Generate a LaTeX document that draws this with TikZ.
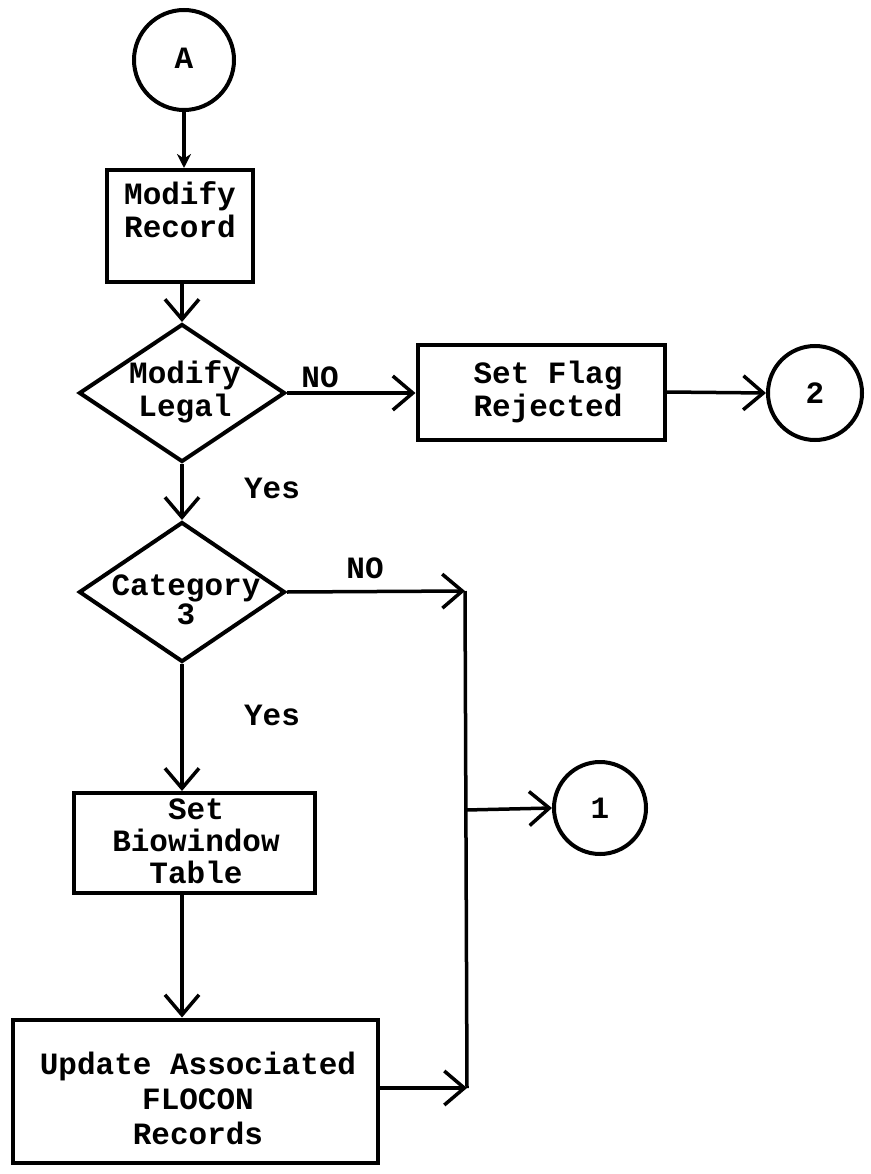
\documentclass[tikz,border=0pt]{standalone}
\usepackage{fontspec}
\setmonofont{Liberation Mono}
\usetikzlibrary{arrows.meta,shapes.geometric}
\begin{document}
\begin{tikzpicture}[x=1pt,y=-1pt,
  txt/.style={font=\ttfamily\bfseries\fontsize{31}{33}\selectfont, align=center, inner sep=0pt},
  stepbox/.style={draw, line width=4pt, rectangle, inner sep=0pt},
  dia/.style={draw, line width=4pt, diamond, inner sep=0pt, minimum width=206pt, minimum height=138pt},
  conn/.style={draw, line width=4pt, circle, inner sep=0pt, minimum size=94pt},
  flow/.style={line width=3.5pt, -{Straight Barb[length=20pt,width=34pt,line width=3.5pt]}},
  small/.style={line width=3.5pt, -{Stealth[length=14pt,width=14pt]}},
  plain/.style={line width=3.5pt}]
\useasboundingbox (0,0) rectangle (870,1174);

% nodes
\node[conn, minimum size=100pt] (A) at (184,60) {};
\node[txt] (Atxt) at (184,58) {A};

\node[stepbox, minimum width=146pt, minimum height=112pt] (mr) at (180,226) {};
\node[txt] (mrt) at (180,210) {Modify\\Record};

\node[dia] (ml) at (182,393) {};
\node[txt] (mlt) at (185,392) {Modify\\Legal};
\node[txt] (no1) at (320,377) {NO};

\node[stepbox, minimum width=247pt, minimum height=95pt] (sf) at (541,392) {};
\node[txt] (sft) at (548,392) {Set Flag\\Rejected};

\node[conn] (c2) at (815,393) {};
\node[txt] (c2t) at (815,393) {2};

\node[txt] (yes1) at (272,488) {Yes};

\node[dia, minimum height=140pt] (cat) at (182,592) {};
\node[txt, font=\ttfamily\bfseries\fontsize{31}{29}\selectfont] (catt) at (186,600) {Category\\3};
\node[txt] (no2) at (365,568) {NO};

\node[txt] (yes2) at (272,715) {Yes};

\node[stepbox, minimum width=241pt, minimum height=100pt] (sb) at (194,843) {};
\node[txt, font=\ttfamily\bfseries\fontsize{31}{32}\selectfont] (sbt) at (196,841) {Set\\Biowindow\\Table};

\node[stepbox, minimum width=365pt, minimum height=143pt] (up) at (195,1091) {};
\node[txt, font=\ttfamily\bfseries\fontsize{31}{35}\selectfont] (upt) at (198,1098) {Update Associated\\FLOCON\\Records};

\node[conn, minimum size=92pt] (c1) at (600,808) {};
\node[txt] (c1t) at (600,808) {1};

\coordinate (j1) at (465,591);
\coordinate (j3) at (466,810);
\coordinate (j2) at (467,1088);

% connectors
\draw[small] (A.south) -- (A.south |- mr.north);
\draw[flow] (mr.south -| ml.north) -- (ml.north);
\draw[flow] (ml.east) -- (sf.west |- ml.east);
\draw[flow] (sf.east) -- (c2.west);
\draw[flow] (ml.south) -- (cat.north);
\draw[flow] (cat.east) -- (j1);
\draw[plain] (j1) -- (j2);
\draw[flow] (cat.south) -- (cat.south |- sb.north);
\draw[flow] (cat.south |- sb.south) -- (cat.south |- up.north);
\draw[flow] (up.east |- j2) -- (j2);
\draw[flow] (j3) -- (c1.west);
\end{tikzpicture}
\end{document}
